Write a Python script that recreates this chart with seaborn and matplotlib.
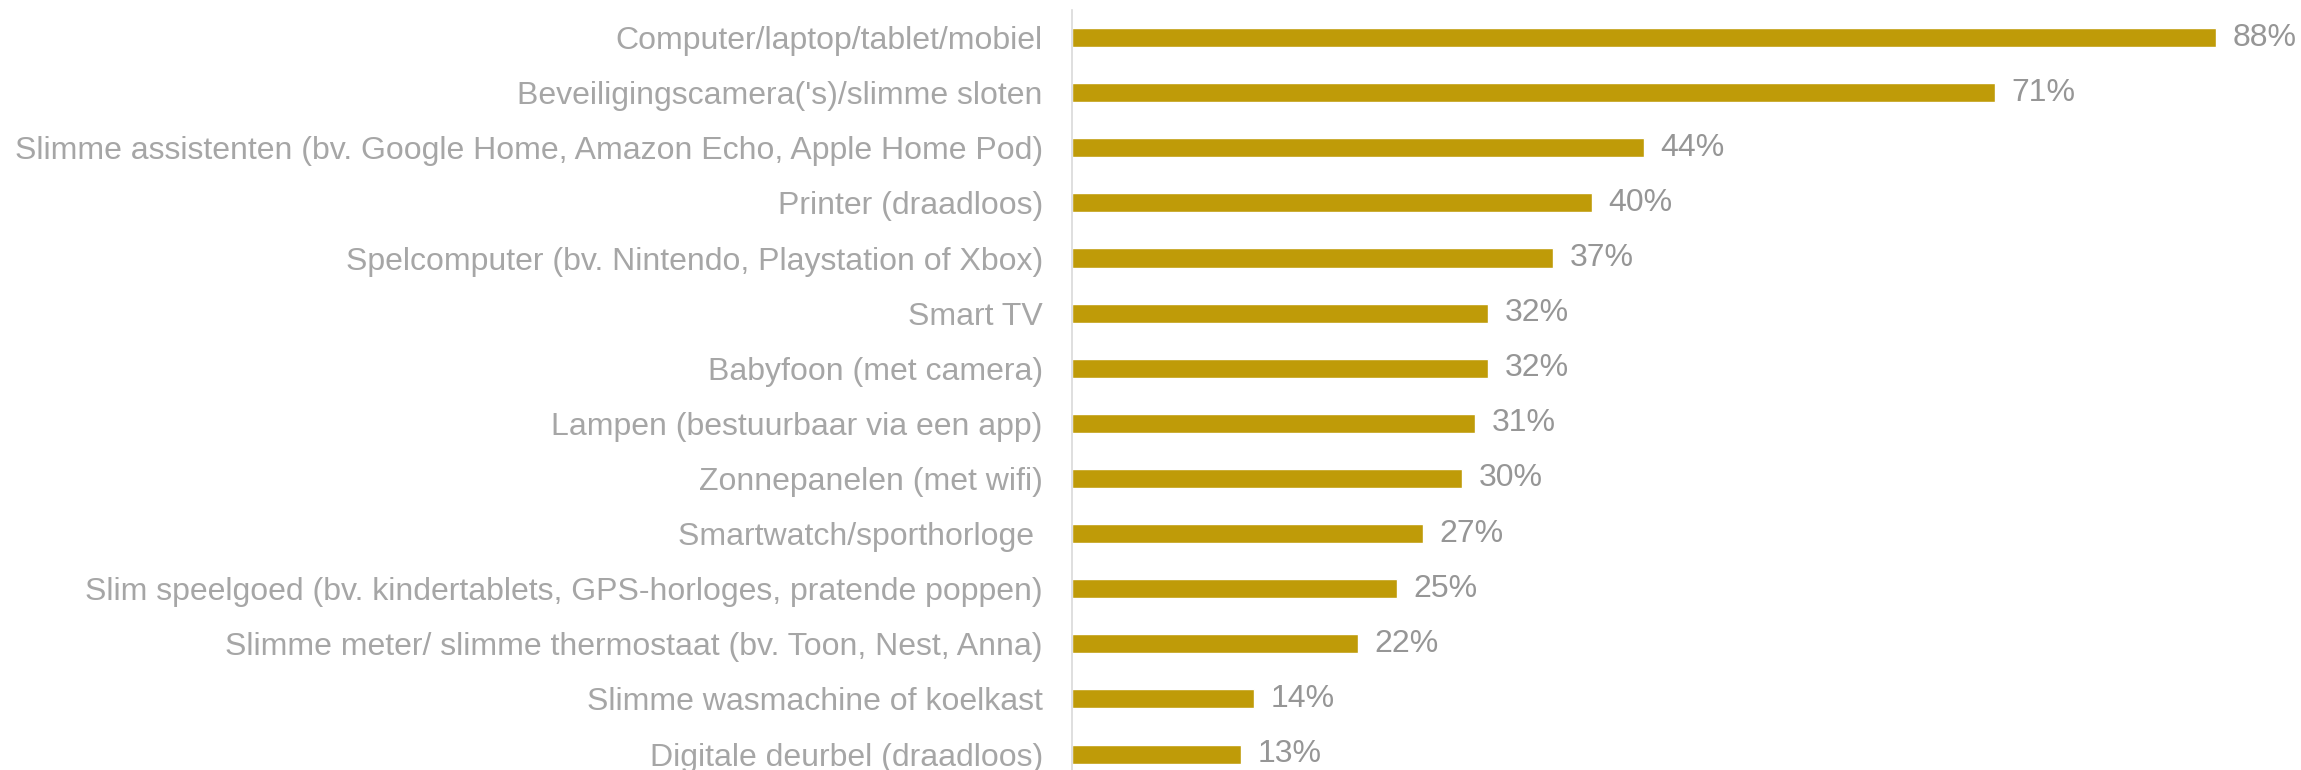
import pandas as pd
import seaborn as sns
import matplotlib.pyplot as plt

# Données
categories = [
    "Computer/laptop/tablet/mobiel",
    "Beveiligingscamera('s)/slimme sloten",
    "Slimme assistenten (bv. Google Home, Amazon Echo, Apple Home Pod)",
    "Printer (draadloos)",
    "Spelcomputer (bv. Nintendo, Playstation of Xbox)",
    "Smart TV",
    "Babyfoon (met camera)",
    "Lampen (bestuurbaar via een app)",
    "Zonnepanelen (met wifi)",
    "Smartwatch/sporthorloge ",
    "Slim speelgoed (bv. kindertablets, GPS-horloges, pratende poppen)",
    "Slimme meter/ slimme thermostaat (bv. Toon, Nest, Anna)",
    "Slimme wasmachine of koelkast",
    "Digitale deurbel (draadloos)",
]
percentages = [88, 71, 44, 40, 37, 32, 32, 31, 30, 27, 25, 22, 14, 13]

df = pd.DataFrame({'apparaat': categories, 'pct': percentages})

sns.set_style('white')
plt.rcParams['font.family'] = ['Liberation Sans', 'DejaVu Sans']

fig = plt.figure(figsize=(23.01, 7.70), dpi=100)
ax = fig.add_axes([1072 / 2301, 0.0, 1170 / 2301, 1 - 10 / 770])

sns.barplot(data=df, x='pct', y='apparaat', orient='h', color='#BF9B08',
            width=0.345, saturation=1, ax=ax)

ax.set_xlim(0, 90)
ax.set_ylim(13.29, -0.5)

# Étiquettes de valeur
ax.bar_label(ax.containers[0], labels=[f"{v}%" for v in percentages],
             padding=12, fontsize=23, color='#969696')

ax.set_xlabel('')
ax.set_ylabel('')
ax.set_xticks([])
ax.tick_params(axis='y', length=0, pad=21, labelsize=23, labelcolor='#A6A6A6')

for side in ['top', 'right', 'bottom']:
    ax.spines[side].set_visible(False)
ax.spines['left'].set_color('#D9D9D9')
ax.spines['left'].set_linewidth(1.2)

plt.savefig('out.png', dpi=100)
